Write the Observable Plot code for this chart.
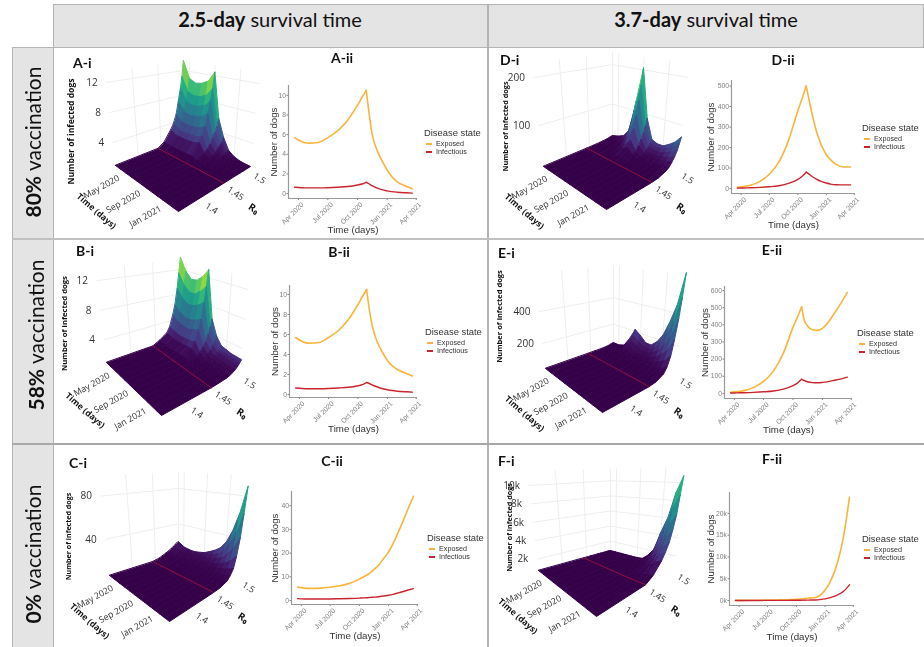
<!DOCTYPE html>
<html><head><meta charset="utf-8">
<script src="https://cdn.jsdelivr.net/npm/d3@7"></script>
<script src="https://cdn.jsdelivr.net/npm/@observablehq/plot@0.6"></script>
<style>
html,body{margin:0;padding:0;background:#fff;overflow:hidden}
#page{position:relative;width:924px;height:647px;overflow:hidden;font-family:Lato,sans-serif;color:#111;filter:blur(.35px)}
#page>div{position:absolute;box-sizing:border-box}
#page svg{overflow:visible;background:transparent!important}
.hd{display:flex;align-items:center;justify-content:center;white-space:nowrap}
.lg{font-family:"Liberation Sans",sans-serif;white-space:nowrap;color:#333}
</style></head><body><div id="page"></div>
<script>
// ---------- 2-D line charts ----------
const dates = ["2020-03-20","2020-04-10","2020-05-01","2020-06-01","2020-07-01","2020-08-01","2020-09-01","2020-10-01","2020-10-15","2020-10-28","2020-11-05","2020-11-15","2020-12-01","2020-12-15","2021-01-01","2021-01-15","2021-02-01","2021-03-01","2021-03-20"];
const peakIndex = 9;
const tickDates = ["2020-04-01","2020-07-01","2020-10-01","2021-01-01","2021-04-01"];
const expA = [5.7,5.3,5.12,5.2,5.7,6.4,7.5,9,9.8,10.5,8.4,6.1,4.4,3.4,2.4,1.75,1.2,.75,.5];
const infA = [.65,.6,.58,.58,.6,.65,.72,.88,.98,1.15,1,.8,.55,.4,.28,.2,.14,.08,.05];
const expB = [5.7,5.3,5.12,5.2,5.7,6.4,7.5,9,9.8,10.5,8.6,6.8,5.2,4.3,3.4,2.9,2.5,2.1,1.85];
const infB = [.65,.6,.58,.58,.6,.65,.72,.88,.98,1.2,1.1,.95,.75,.6,.48,.4,.33,.27,.24];
const expC = [5.7,5.2,5.1,5.2,5.6,6.2,7.3,9,10,11,11.8,13,15,17.5,20.5,24,29,38,44];
const infC = [.8,.65,.6,.6,.65,.75,.85,1,1.1,1.2,1.3,1.4,1.6,1.9,2.2,2.6,3.2,4.3,5];
const expD = [6,10,16,35,70,130,235,380,440,500,440,370,275,215,165,140,118,105,105];
const infD = [2,3,4,6,9,14,25,45,60,80,72,60,45,35,27,22,19,18,18];
const expE = [6,10,16,35,70,130,235,385,445,505,430,395,372,368,380,405,450,530,590];
const infE = [2,3,4,6,9,14,25,45,60,82,75,68,63,62,64,67,74,85,95];
const expF = [20,30,40,60,90,130,180,280,350,450,500,600,700,1150,2400,4000,6800,14800,23700];
const infF = [3,5,8,12,18,25,35,50,60,80,90,100,130,200,360,600,1000,2100,3600];

// ---------- 3-D surfaces: months since Apr 2020 by R0 ----------
const months = [0,1,2,3,4,5,6,7,8,9,10,11,12];
const r0s = [1.35,1.4445,1.458,1.473,1.479,1.485,1.4895,1.494,1.497,1.5];
const flat = [0,0,0,0,0,0,0,0,0,0,0,0,0];
const surfA = [flat,flat,
 [.52,.42,.4,.42,.45,.52,.23,.12,.05,.02,.01,0,0],
 [1.8,1.4,1.4,1.4,1.5,1.8,.77,.39,.15,.07,.03,.01,0],
 [2.5,2,1.9,2,2.1,2.5,1.1,.55,.22,.1,.04,.01,0],
 [3.6,2.9,2.8,2.9,3.1,3.6,1.6,.8,.32,.14,.05,.02,0],
 [5.2,4.2,4,4.2,4.5,5.2,2.3,1.2,.45,.2,.08,.03,0],
 [6.8,5.4,5.2,5.4,5.8,6.8,2.9,1.5,.6,.26,.1,.03,0],
 [8.3,6.6,6.4,6.6,7.1,8.3,3.6,1.8,.7,.3,.12,.04,0],
 [10.4,8.3,8,8.3,8.9,10.4,4.5,2.3,.9,.4,.15,.05,0]];
const surfB = [flat,flat,
 [.43,.37,.34,.35,.39,.44,.19,.11,.08,.07,.06,.06,.06],
 [1.1,.9,.85,.9,1,1.1,.47,.28,.19,.18,.16,.16,.16],
 [1.8,1.6,1.4,1.5,1.6,1.9,.8,.48,.32,.3,.27,.27,.27],
 [3.2,2.8,2.6,2.6,2.9,3.3,1.4,.84,.57,.52,.48,.48,.48],
 [4.5,3.9,3.6,3.7,4.1,4.6,2,1.2,.8,.74,.67,.67,.67],
 [6.6,5.7,5.3,5.5,6,6.8,2.9,1.7,1.2,1.1,1,1,1],
 [8.6,7.4,6.8,7,7.8,8.8,3.8,2.2,1.5,1.4,1.3,1.3,1.3],
 [10.7,9.2,8.5,8.8,9.7,11,4.7,2.8,1.9,1.75,1.6,1.6,1.6]];
const surfC = [flat,flat,
 [1.1,.7,.5,.4,.35,.3,.3,.3,.3,.35,.4,.45,.4],
 [3.8,2.4,1.8,1.4,1.3,1.2,1.2,1.2,1.2,1.4,1.7,2,2.5],
 [5,3.2,2.5,2,1.9,1.9,2,2.1,2.3,2.7,3.4,4.4,5.8],
 [6.6,4.4,3.6,3.1,3.1,3.2,3.6,3.9,4.3,5.2,6.8,8.4,10.8],
 [7.7,5.4,4.5,4,4.2,4.5,5.2,5.8,6.7,8.3,11,15,21],
 [9.3,6.4,5.6,5.2,5.7,6.2,7.4,8.6,10.4,13,19,26,37],
 [10,7.2,6.4,6.1,6.8,7.7,9.6,11.6,14.3,19,27,39,58],
 [11,8,7.2,7,8,9.3,12,15,19,26,38,56,83]];
const surfD = [flat,flat,
 [.1,.2,.3,.6,1.9,3.4,1.4,.6,.5,.6,.7,.9,1.2],
 [.4,.8,1.4,3.1,9.6,17,7,3.1,2.7,2.8,3.6,4.6,6.2],
 [.7,1.4,2.4,5.3,16,29,12,5.3,4.6,4.8,6.1,7.8,10.5],
 [1.2,2.4,4.2,9.3,29,51,21,9.3,8.1,8.4,10.8,13.8,18.6],
 [1.8,3.5,6.2,13.6,42,75,31,13.6,11.9,12.3,15.8,20,27],
 [2.5,5,8.7,19,60,105,43,19,16.7,17.4,22,28.5,38],
 [3.2,6.4,11,25,77,136,56,25,21.6,22.4,29,37,50],
 [4,8,14,31,96,170,70,31,27,28,36,46,62]];
const surfE = [flat,flat,
 [.1,.1,.3,.8,1.5,1.3,1,1,1.3,1.9,2.8,4,6],
 [.6,.6,1.3,4,7.5,6.3,4.8,4.8,6.5,9,14,20,31],
 [1.2,1.2,2.5,8,15,12.5,9.5,9.5,13,18.5,28,40,62],
 [2.4,2.4,5,16,30,25,19,19,26,37,56,80,124],
 [4,4,9,28,52,44,33,33,46,65,98,140,217],
 [7,7,14,44,82,69,52,52,72,102,154,220,340],
 [9,9,19,60,112,94,71,71,98,139,210,300,465],
 [12,12,25,80,150,125,95,95,130,185,280,400,620]];
const surfF = [flat,
 [0,0,0,0,0,0,0,6,14,34,50,80,100],
 [0,0,0,0,0,1,4,36,84,204,306,480,600],
 [0,0,0,0,0,2,12,102,238,578,867,1360,1700],
 [0,0,0,0,0,2,17,144,336,816,1224,1920,2400],
 [0,0,0,0,0,3,23,198,462,1122,1683,2640,3300],
 [0,0,0,0,0,5,32,270,630,1530,2300,3600,4500],
 [0,0,0,0,0,6,42,360,840,2040,3060,4800,6000],
 [0,0,0,0,0,8,56,480,1120,2720,4080,6400,8000],
 [0,0,0,0,0,10,70,600,1400,3400,5100,8000,10000]];

const timeTicks = [[1,"May 2020"],[5,"Sep 2020"],[9,"Jan 2021"]];
const r0Ticks = [1.4,1.45,1.5];

const panels3d = [
 {id:"A-i",surf:surfA,box:[55,48,225,190],L:[115,165],B:[178,211],T:[183,138],R:[250,166],zPx:7.5,zMax:10.8,zTicks:[4,8,12],top:12.6,tx:[73,63],ly:[71,131],lf:8.6},
 {id:"B-i",surf:surfB,box:[55,240,225,203],L:[106,362],B:[161,415],T:[180,336],R:[240,371],zPx:7.4,zMax:11.2,zTicks:[4,8,12],top:12.6,tx:[76,251],ly:[64,323],lf:7.7},
 {id:"C-i",surf:surfC,box:[55,445,225,202],L:[109,575],B:[169,621],T:[178,553],R:[239,575],zPx:1.08,zMax:105,zTicks:[40,80],top:92,tx:[69,463],ly:[68,536],lf:7.1},
 {id:"D-i",surf:surfD,box:[489,48,225,190],L:[543,166],B:[606,209],T:[612,137],R:[678,166],zPx:.48,zMax:175,zTicks:[100,200],top:215,tx:[500,60],ly:[505,126],lf:7.3},
 {id:"E-i",surf:surfE,box:[489,240,225,203],L:[545,368],B:[602,412],T:[613,344],R:[676,371],zPx:.16,zMax:800,zTicks:[200,400],top:600,tx:[498,253],ly:[499,316],lf:7.5},
 {id:"F-i",surf:surfF,box:[489,445,225,202],L:[538,570],B:[596,616],T:[610,550],R:[674,567],zPx:.0092,zMax:13000,zTicks:[2000,4000,6000,8000,10000],top:10800,tx:[498,461],ly:[509,527],lf:7.2}
];
const panels2d = [
 {id:"A-ii",exp:expA,inf:infA,ax:[288,85,417,198],y:[-.5,11],yt:[0,2,4,6,8,10],tc:[342,58],lg:[424,133],tdx:-15},
 {id:"B-ii",exp:expB,inf:infB,ax:[289,285,417,397],y:[-.3,10.9],yt:[0,2,4,6,8,10],tc:[339,252],lg:[425,332],tdx:-15},
 {id:"C-ii",exp:expC,inf:infC,ax:[291,491,418,604],y:[-1.7,46],yt:[0,10,20,30,40],tc:[332,461],lg:[427,538],tdx:-17},
 {id:"D-ii",exp:expD,inf:infD,ax:[731,80,855,193],y:[-24,527],yt:[0,100,200,300,400,500],tc:[783,60],lg:[862,128],tdx:-21},
 {id:"E-ii",exp:expE,inf:infE,ax:[724,286,852,398],y:[-30,624],yt:[0,100,200,300,400,500,600],tc:[772,250],lg:[857,333],tdx:-20},
 {id:"F-ii",exp:expF,inf:infF,ax:[729,492,854,605],y:[-1150,24800],yt:[0,5000,10000,15000,20000],tc:[772,459],lg:[862,539],k:true,tdx:-19}
];
const EXPOSED="#f9b43c", INFECTIOUS="#c9252f", LEAN=.0016;
const page=document.getElementById("page");
function div(css,html,cls){const d=document.createElement("div");d.style.cssText=css;if(html)d.innerHTML=html;if(cls)d.className=cls;page.appendChild(d);return d;}
const GR="#e4e4e4",BD="1.5px solid #b4b4b4";
// frame
div(`left:53px;top:4px;width:871px;height:44px;background:${GR};border:${BD}`);
div(`left:487px;top:4px;width:1.5px;height:643px;background:#b4b4b4`);
div(`left:12px;top:47px;width:41.5px;height:600px;background:${GR};border-left:${BD};border-right:${BD};border-top:${BD}`);
div(`left:12px;top:238px;width:912px;height:1.5px;background:#c0c0c0`);
div(`left:12px;top:443px;width:912px;height:1.5px;background:#a8a8a8`);
div(`left:53px;top:4px;width:434px;height:30px;font-size:20px`,"<span><b>2.5-day</b> survival time</span>","hd");
div(`left:488px;top:4px;width:436px;height:30px;font-size:20px`,"<span><b>3.7-day</b> survival time</span>","hd");
[["80%",32,142],["58%",35,335],["0%",32,554]].forEach(([p,x,y])=>
 div(`left:${x-100}px;top:${y-15}px;width:200px;height:30px;font-size:21px;transform:rotate(-90deg)`,`<span><b>${p}</b> vaccination</span>`,"hd"));

const viridisDeep=t=>d3.interpolateRgb("#35024a",d3.interpolateViridis(t))(Math.min(1,t*7));

// 3-D panels
panels3d.forEach(p=>{
 const {L,B,T,R,zPx,box}=p;
 const map=(t,r,z=0)=>{const u=t/12,f=(r-1.35)/.15;
  const x=(1-u)*((1-f)*L[0]+f*T[0])+u*((1-f)*B[0]+f*R[0]);
  const y=(1-u)*((1-f)*L[1]+f*T[1])+u*((1-f)*B[1]+f*R[1]);
  const h=z*zPx;
  return [x+(x-T[0])*LEAN*h-box[0],y-h-box[1]];};
 // a three-valued coordinate is (month,R0,z); a two-valued one is already in pixels
 const projection=d3.geoTransform({point(a,b,c){if(c===undefined)this.stream.point(a,b);else{const q=map(a,b,c);this.stream.point(q[0],q[1]);}}});
 const depth=(t,r)=>1-.18*((r-1.35)/.15-t/12);
 const lift=7/zPx;
 const lines=[];
 const rmin=1.35,rmax=1.5,tend=12;
 p.zTicks.forEach(z=>{
  lines.push({type:"LineString",coordinates:[[0,rmin,(z-lift)*depth(0,rmin)],[0,rmax,(z-lift)*depth(0,rmax)],[tend,rmax,(z-lift)*depth(tend,rmax)]]});
 });
 r0Ticks.forEach(r=>lines.push({type:"LineString",coordinates:[[0,r,0],[0,r,p.top*depth(0,r)]]}));
 timeTicks.forEach(([t])=>lines.push({type:"LineString",coordinates:[[t,rmax,0],[t,rmax,p.top*depth(t,rmax)]]}));
 const quads=[];
 for(let i=r0s.length-2;i>=0;i--)for(let j=0;j<months.length-1;j++){
  const s=p.surf;
  const a=s[i][j],b=s[i][j+1],c=s[i+1][j+1],d=s[i+1][j];
  quads.push({type:"Polygon",v:(a+b+c+d)/4,coordinates:[[[months[j],r0s[i],a],[months[j+1],r0s[i],b],[months[j+1],r0s[i+1],c],[months[j],r0s[i+1],d],[months[j],r0s[i],a]]]});
 }
 const red={type:"LineString",coordinates:months.map((m,j)=>[m,r0s[1],p.surf[1][j]])};
 const fz=p.id==="F-i"?(z=>z/1000+"k"):(z=>String(z));
 const pos=(t,r,z,dx,dy)=>{const q=map(t,r,z);return {x:q[0]+dx,y:q[1]+dy};};
 const zLab=p.zTicks.map(z=>({...pos(0,rmin,z,-8,7),s:fz(z)}));
 const tLab=timeTicks.map(([t,s])=>({...pos(t,rmin,0,-2,8),s}));
 const rLab=r0Ticks.map(r=>({...pos(12,r,0,9,12),s:String(r)}));
 const tt=pos(3.6,rmin,0,-38,32), rt=pos(12,1.4625,0,21,31);
 const font="Open Sans";
 const plot=Plot.plot({
  width:box[2],height:box[3],margin:0,projection,
  color:{type:"linear",interpolate:viridisDeep,domain:[0,p.zMax]},
  style:{background:"transparent",fontFamily:font},
  marks:[
   Plot.geo(lines,{stroke:"#eeeeee",strokeWidth:1}),
   Plot.geo(quads,{fill:d=>d.v,stroke:d=>d.v,strokeWidth:1}),
   Plot.geo([red],{stroke:"#9e1238",strokeWidth:.9}),
   Plot.text(zLab,{x:"x",y:"y",text:"s",textAnchor:"end",fontSize:10,fill:"#333"}),
   Plot.text(tLab,{x:"x",y:"y",text:"s",textAnchor:"end",rotate:-29,fontSize:8.8,fill:"#333"}),
   Plot.text(rLab,{x:"x",y:"y",text:"s",rotate:33,fontSize:9,fill:"#333"}),
   Plot.text([{...tt,s:"Time (days)"}],{x:"x",y:"y",text:"s",rotate:41,fontSize:8.6,fontWeight:"bold",fill:"#111"}),
   Plot.text([{...rt,s:"R\u2080"}],{x:"x",y:"y",text:"s",rotate:33,fontSize:10,fontWeight:"bold",fill:"#111"}),
   Plot.text([{x:p.ly[0]-box[0],y:p.ly[1]-box[1],s:"Number of infected dogs"}],{x:"x",y:"y",text:"s",rotate:-90,fontSize:p.lf,fontWeight:"bold",fill:"#111"})
  ]});
 const d=div(`left:${box[0]}px;top:${box[1]}px;width:${box[2]}px;height:${box[3]}px`);
 d.appendChild(plot);
 plot.querySelectorAll('g[aria-label="geo"]')[1].style.filter="blur(.75px)";
 div(`left:${p.tx[0]}px;top:${p.tx[1]-10}px;font-size:14px;font-weight:700;line-height:20px;white-space:nowrap`,p.id);
});

// 2-D panels
panels2d.forEach(p=>{
 const [x0,y0,x1,y1]=p.ax, mL=36,mR=14,mT=4,mB=48;
 // the curve is cut at its peak so that the cusp stays sharp
 const rows=(vals)=>dates.flatMap((d,i)=>{
  const r=seg=>({date:new Date(d),value:vals[i],seg});
  return i<peakIndex?[r(0)]:i>peakIndex?[r(1)]:[r(0),r(1)];});
 const ticks=tickDates.map(d=>new Date(d));
 const plot=Plot.plot({
  width:x1-x0+mL+mR,height:y1-y0+mT+mB,marginLeft:mL,marginRight:mR,marginTop:mT,marginBottom:mB,
  style:{background:"transparent",fontFamily:"Liberation Sans",fontSize:"7px"},
  x:{type:"utc",domain:[new Date("2020-03-01"),new Date("2021-04-05")]},
  y:{domain:p.y},
  marks:[
   Plot.axisX(ticks,{tickFormat:()=>"",tickSize:2,color:"#808080",label:null}),
   Plot.text(ticks,{x:d=>d,text:d3.utcFormat("%b %Y"),frameAnchor:"bottom",lineAnchor:"middle",textAnchor:"end",rotate:-45,dx:4,dy:5,fontSize:6.9,fill:"#808080"}),
   Plot.axisY(p.yt,{tickSize:1.5,tickPadding:1,color:"#808080",label:null,tickFormat:p.k?(d=>d/1000+"k"):(d=>String(d)),fontSize:6.8}),
   Plot.ruleY([p.y[0]],{stroke:"#999",strokeWidth:1.2}),
   Plot.ruleX([new Date("2020-03-01")],{stroke:"#999",strokeWidth:1.2}),
   Plot.line(rows(p.exp),{x:"date",y:"value",z:"seg",stroke:EXPOSED,strokeWidth:1.6,curve:"monotone-x"}),
   Plot.line(rows(p.inf),{x:"date",y:"value",z:"seg",stroke:INFECTIOUS,strokeWidth:1.4,curve:"monotone-x"}),
   Plot.text(["Number of dogs"],{frameAnchor:"left",textAnchor:"middle",lineAnchor:"middle",rotate:-90,dx:p.tdx,fontSize:9.7,fill:"#333"}),
   Plot.text(["Time (days)"],{frameAnchor:"bottom",lineAnchor:"middle",dy:31,fontSize:9.7,fill:"#333"})
  ]});
 const d=div(`left:${x0-mL}px;top:${y0-mT}px`);d.appendChild(plot);
 div(`left:${p.tc[0]-40}px;top:${p.tc[1]-10}px;width:80px;text-align:center;font-size:14px;font-weight:700;line-height:20px`,p.id);
 const [lx,ly]=p.lg;
 div(`left:${lx}px;top:${ly-7}px;font-size:9.4px;line-height:14px`,"Disease state","lg");
 [["Exposed",EXPOSED,11],["Infectious",INFECTIOUS,19]].forEach(([s,c,o])=>{
  div(`left:${lx+2}px;top:${ly+o-1}px;width:6px;height:2px;background:${c}`);
  div(`left:${lx+12}px;top:${ly+o-5}px;font-size:7.2px;line-height:10px`,s,"lg");
 });
});
</script></body></html>
